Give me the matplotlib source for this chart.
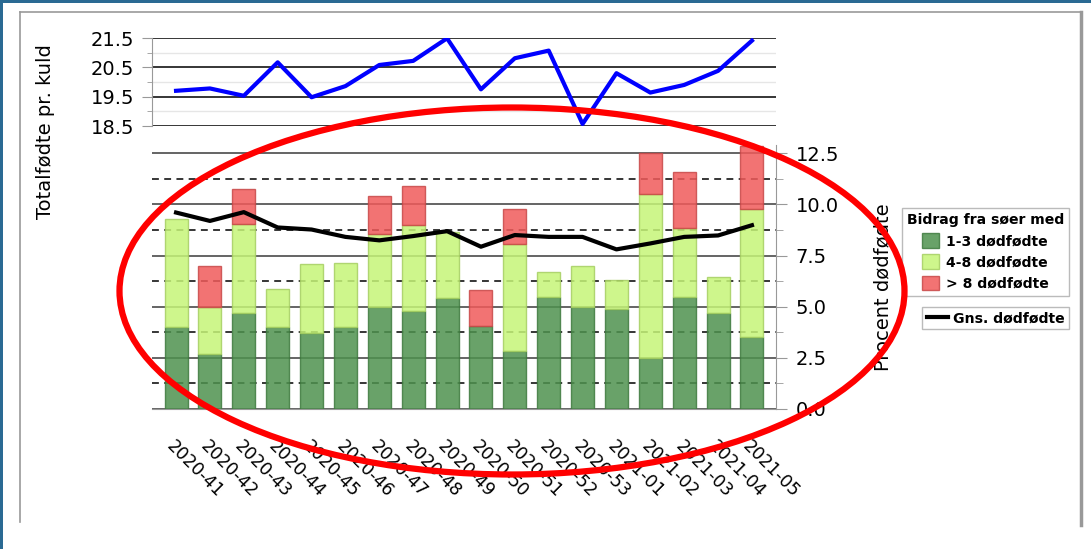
import matplotlib
matplotlib.use("Agg")
import matplotlib.pyplot as plt
import matplotlib.ticker as mticker
from matplotlib.patches import Ellipse, Rectangle, Patch
from matplotlib.lines import Line2D
import numpy as np

plt.rcParams["font.family"] = ["DejaVu Sans"]

# 数据
weeks = ["2020-41", "2020-42", "2020-43", "2020-44", "2020-45", "2020-46",
         "2020-47", "2020-48", "2020-49", "2020-50", "2020-51", "2020-52",
         "2020-53", "2021-01", "2021-02", "2021-03", "2021-04", "2021-05"]
totalfodte = [19.70, 19.78, 19.53, 20.67, 19.48, 19.86, 20.58, 20.72, 21.49,
              19.75, 20.81, 21.07, 18.57, 20.30, 19.64, 19.90, 20.38, 21.41]
bidrag_1_3 = [4.02, 2.69, 4.70, 3.99, 3.70, 4.02, 4.96, 4.80, 5.42,
              4.07, 2.85, 5.48, 4.98, 4.90, 2.50, 5.45, 4.70, 3.52]
bidrag_4_8 = [5.26, 2.29, 4.35, 1.85, 3.38, 3.12, 3.58, 4.17, 3.24,
              0.00, 5.21, 1.22, 2.00, 1.40, 8.00, 3.40, 1.75, 6.25]
bidrag_over_8 = [0.00, 2.00, 1.71, 0.00, 0.00, 0.00, 1.89, 1.92, 0.00,
                 1.74, 1.72, 0.00, 0.00, 0.00, 2.02, 2.74, 0.00, 3.09]
gns_dodfodte = [9.60, 9.19, 9.62, 8.87, 8.77, 8.41, 8.24, 8.45, 8.69,
                7.93, 8.50, 8.41, 8.41, 7.80, 8.09, 8.41, 8.48, 8.98]

W, H = 1091, 549
fig = plt.figure(figsize=(W / 100, H / 100), dpi=100)
x = np.arange(len(weeks))
xlim = (-0.71, len(weeks) - 0.29)

c_dark, e_dark = "#4f924f", "#3f7a3f"
c_light, e_light = "#c6f578", "#a6cf62"
c_red, e_red = "#f05a5a", "#c84848"

# 上图: 总产仔数
ax1 = fig.add_axes([152 / W, 1 - 126 / H, 624 / W, 88 / H])
ax1.plot(x, totalfodte, color="#0000ff", linewidth=3, zorder=3)
ax1.set_xlim(*xlim)
ax1.set_ylim(18.5, 21.5)
ax1.yaxis.set_major_locator(mticker.FixedLocator([18.5, 19.5, 20.5, 21.5]))
ax1.yaxis.set_minor_locator(mticker.FixedLocator([19, 20, 21]))
ax1.yaxis.set_major_formatter(mticker.FormatStrFormatter("%.1f"))
ax1.grid(True, which="major", axis="y", color="black", linewidth=1.1)
ax1.grid(True, which="minor", axis="y", color="#e6e6e6", linewidth=1)
ax1.set_axisbelow(True)
ax1.set_xticks([])
for s in ["top", "right", "bottom"]:
    ax1.spines[s].set_visible(False)
ax1.spines["left"].set_color("#999999")
ax1.tick_params(axis="y", which="major", length=7, color="#999999", pad=6, labelsize=14)
ax1.tick_params(axis="y", which="minor", length=3.5, color="#999999")

# 下图: 死胎比例
ax2 = fig.add_axes([152 / W, 1 - 409 / H, 624 / W, 264 / H])
bw = 0.68
b1 = np.array(bidrag_1_3)
b2 = np.array(bidrag_4_8)
b3 = np.array(bidrag_over_8)
ax2.bar(x, b1, width=bw, color=c_dark, edgecolor=e_dark,
        linewidth=[1 if v > 0 else 0 for v in b1], alpha=0.85, zorder=3)
ax2.bar(x, b2, width=bw, bottom=b1, color=c_light, edgecolor=e_light,
        linewidth=[1 if v > 0 else 0 for v in b2], alpha=0.85, zorder=3)
ax2.bar(x, b3, width=bw, bottom=b1 + b2, color=c_red, edgecolor=e_red,
        linewidth=[1 if v > 0 else 0 for v in b3], alpha=0.85, zorder=3)
ax2.plot(x, gns_dodfodte, color="black", linewidth=3, zorder=4)
ax2.set_xlim(*xlim)
ax2.set_ylim(0, 12.9)
ax2.yaxis.tick_right()
ax2.yaxis.set_major_locator(mticker.MultipleLocator(2.5))
ax2.yaxis.set_minor_locator(mticker.MultipleLocator(1.25))
ax2.yaxis.set_major_formatter(mticker.FormatStrFormatter("%.1f"))
ax2.grid(True, which="major", axis="y", color="#3a3a3a", linewidth=1.1)
ax2.grid(True, which="minor", axis="y", color="black", linewidth=1.1, linestyle=(0, (4.5, 3.5)))
ax2.set_axisbelow(True)
for s in ["top", "left"]:
    ax2.spines[s].set_visible(False)
ax2.spines["right"].set_color("#999999")
ax2.spines["bottom"].set_color("#999999")
ax2.spines["bottom"].set_zorder(5)
ax2.tick_params(axis="y", which="major", length=8, color="#999999", pad=6, labelsize=14)
ax2.tick_params(axis="y", which="minor", length=5, color="#999999")
ax2.set_xticks(x)
ax2.set_xticklabels(weeks, rotation=-45, ha="left", va="top", rotation_mode="anchor", fontsize=12.5)
ax2.tick_params(axis="x", length=0, pad=20)

# 轴标签
fig.text(46 / W, 1 - 132 / H, "Totalfødte pr. kuld", rotation=90, ha="center", va="center", fontsize=14)
fig.text(883 / W, 1 - 287 / H, "Procent dødfødte", rotation=90, ha="center", va="center", fontsize=14)

# 图例
handles = [Patch(facecolor=c_dark, edgecolor=e_dark, alpha=0.85, label="1-3 dødfødte"),
           Patch(facecolor=c_light, edgecolor=e_light, alpha=0.85, label="4-8 dødfødte"),
           Patch(facecolor=c_red, edgecolor=e_red, alpha=0.85, label="> 8 dødfødte")]
leg1 = fig.legend(handles=handles, title="Bidrag fra søer med", loc="upper right",
                  bbox_to_anchor=(1069 / W, 1 - 208 / H), borderaxespad=0, fancybox=False,
                  edgecolor="#bbbbbb", framealpha=1, handlelength=1.2, handleheight=1.2,
                  handletextpad=0.5, labelspacing=0.45, borderpad=0.35,
                  prop={"size": 10.1, "weight": "bold"},
                  title_fontproperties={"size": 10.1, "weight": "bold"})
leg1.get_frame().set_linewidth(1)
leg2 = fig.legend(handles=[Line2D([], [], color="black", linewidth=3, label="Gns. dødfødte")],
                  loc="upper right", bbox_to_anchor=(1069 / W, 1 - 307 / H), borderaxespad=0,
                  fancybox=False, edgecolor="#bbbbbb", framealpha=1, handlelength=1.5,
                  handletextpad=0.4, borderpad=0.3, prop={"size": 10.1, "weight": "bold"})
leg2.get_frame().set_linewidth(1)

# 外框
fig.add_artist(Rectangle((0, 1 - 3 / H), 1, 3 / H, transform=fig.transFigure, color="#2a6a93", lw=0))
fig.add_artist(Rectangle((0, 0), 3 / W, 1, transform=fig.transFigure, color="#2a6a93", lw=0))
fig.add_artist(Line2D([19.5 / W, 19.5 / W], [1 - 522 / H, 1 - 12 / H], color="#999999", lw=1.2))
fig.add_artist(Line2D([19.5 / W, 1081 / W], [1 - 12 / H, 1 - 12 / H], color="#999999", lw=1.2))
fig.add_artist(Line2D([1081 / W, 1081 / W], [1 - 525 / H, 1 - 12 / H], color="#999999", lw=2.5))

# 红色椭圆标注
fig.add_artist(Ellipse((512 / W, 1 - 291 / H), 785 / W, 367 / H, transform=fig.transFigure,
                       fill=False, edgecolor="#ff0000", linewidth=4.5, zorder=10))

fig.savefig("out.png", dpi=100)
